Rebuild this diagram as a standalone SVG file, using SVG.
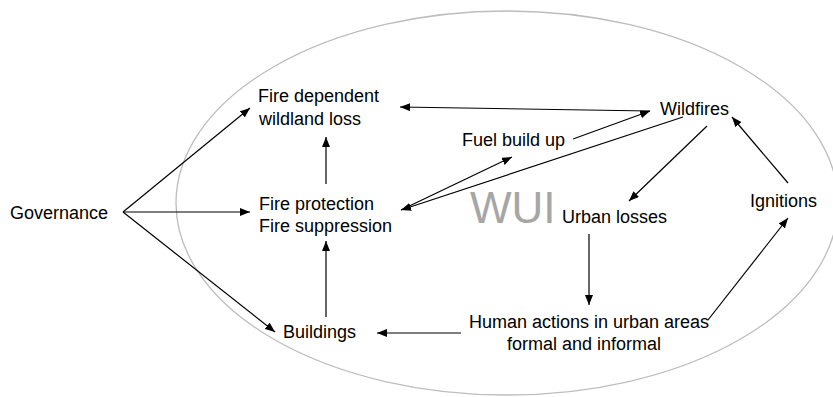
<svg xmlns="http://www.w3.org/2000/svg" width="833" height="397" viewBox="0 0 833 397">
<style>
text{font-family:"Liberation Sans",Arial,sans-serif;font-size:18px;fill:#000}
.wui{font-size:44px;fill:#a6a6a6}
.c line{stroke:#000;stroke-width:1.2;marker-end:url(#ah)}
</style>
<defs>
<marker id="ah" viewBox="0 0 10 8" refX="10" refY="4" markerWidth="10" markerHeight="8" markerUnits="userSpaceOnUse" orient="auto">
<path d="M0,0 L10,4 L0,8 z" fill="#000"/>
</marker>
</defs>
<rect width="833" height="397" fill="#fff"/>
<ellipse id="wui-area" cx="507" cy="203" rx="331" ry="192" fill="none" stroke="#bdbdbd" stroke-width="1.3"/>
<text class="wui" x="470" y="223">WUI</text>
<g class="c" id="connectors">
<line x1="123" y1="212" x2="250" y2="108"/>
<line x1="123" y1="212" x2="250" y2="212"/>
<line x1="123" y1="212" x2="275" y2="332"/>
<line x1="326" y1="184" x2="326" y2="137"/>
<line x1="326" y1="317" x2="326" y2="241"/>
<line x1="650" y1="111" x2="400" y2="107"/>
<line x1="573" y1="139" x2="650" y2="111"/>
<line x1="683" y1="117" x2="401" y2="210"/>
<line x1="401" y1="210" x2="512" y2="157"/>
<line x1="707" y1="126" x2="629" y2="201"/>
<line x1="788" y1="183" x2="732" y2="117"/>
<line x1="589" y1="234" x2="589" y2="305"/>
<line x1="708" y1="320" x2="788" y2="218"/>
<line x1="461" y1="333" x2="377" y2="333"/>
</g>
<g id="governance"><text x="10" y="219">Governance</text></g>
<g id="fire-dependent"><text x="258" y="102">Fire dependent</text><text x="259" y="125">wildland loss</text></g>
<g id="fire-protection"><text x="259" y="210">Fire protection</text><text x="259" y="232">Fire suppression</text></g>
<g id="wildfires"><text x="660" y="115">Wildfires</text></g>
<g id="fuel"><text x="462" y="146">Fuel build up</text></g>
<g id="urban-losses"><text x="562" y="223">Urban losses</text></g>
<g id="ignitions"><text x="750" y="207">Ignitions</text></g>
<g id="buildings"><text x="283" y="338">Buildings</text></g>
<g id="human-actions"><text x="589" y="328" text-anchor="middle">Human actions in urban areas</text><text x="584" y="350" text-anchor="middle">formal and informal</text></g>
</svg>
